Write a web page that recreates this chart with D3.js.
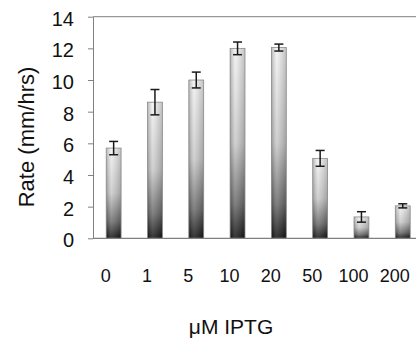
<!DOCTYPE html>
<html>
<head>
<meta charset="utf-8">
<script src="https://cdn.jsdelivr.net/npm/d3@7"></script>
<style>
  body { margin: 0; background: #fff; }
  text { font-family: "Liberation Sans", Arial, sans-serif; fill: #111; }
</style>
</head>
<body>
<div id="plot"></div>
<script>
// IPTG concentrations (uM) and measured rates
var conc = ["0", "1", "5", "10", "20", "50", "100", "200"]
var rate = [5.7, 8.6, 10.0, 12.0, 12.05, 5.05, 1.35, 2.05]
var err = [0.42, 0.8, 0.5, 0.4, 0.22, 0.5, 0.33, 0.13]
var yTicks = [0, 2, 4, 6, 8, 10, 12, 14]

var w = 416
var h = 338
var plotLeft = 93
var plotTop = 16.7
var plotBottom = 238.3
var step = 41.3

var svg = d3.select("#plot").append("svg")
    .attr("width", w).attr("height", h)

var data = conc.map(function(c, i) { return { c: c, v: rate[i], e: err[i] } })

var xScale = d3.scaleBand()
    .domain(conc)
    .range([plotLeft, plotLeft + step * conc.length])
    .paddingInner(0.64)
    .paddingOuter(0.32)

var yScale = d3.scaleLinear()
    .domain([0, 14])
    .range([plotBottom, plotTop])

// gradients for the bars
var defs = svg.append("defs")
var vg = defs.append("linearGradient").attr("id", "vgrad")
    .attr("x1", 0).attr("y1", 0).attr("x2", 0).attr("y2", 1)
vg.append("stop").attr("offset", "0%").attr("stop-color", "#f2f2f2")
vg.append("stop").attr("offset", "50%").attr("stop-color", "#c8c8c8")
vg.append("stop").attr("offset", "82%").attr("stop-color", "#6a6a6a")
vg.append("stop").attr("offset", "100%").attr("stop-color", "#121212")

var hg = defs.append("linearGradient").attr("id", "hgrad")
    .attr("x1", 0).attr("y1", 0).attr("x2", 1).attr("y2", 0)
hg.append("stop").attr("offset", "0%").attr("stop-color", "#000").attr("stop-opacity", 0.25)
hg.append("stop").attr("offset", "35%").attr("stop-color", "#fff").attr("stop-opacity", 0.15)
hg.append("stop").attr("offset", "100%").attr("stop-color", "#000").attr("stop-opacity", 0.2)

// top border line
svg.append("line")
    .attr("x1", plotLeft).attr("x2", w)
    .attr("y1", yScale(14)).attr("y2", yScale(14))
    .attr("stroke", "#808080").attr("stroke-width", 1)

// y axis
var yAxis = d3.axisLeft(yScale).tickValues(yTicks).tickSize(5).tickSizeOuter(0).tickPadding(14)
var gy = svg.append("g")
    .attr("transform", "translate(" + plotLeft + ",0)")
    .call(yAxis)
gy.select(".domain").attr("stroke", "#808080")
gy.selectAll(".tick line").attr("stroke", "#808080")
gy.selectAll(".tick text")
    .attr("font-size", 20)
    .attr("font-family", "'Liberation Sans', Arial, sans-serif")
    .attr("fill", "#111")
    .attr("dy", "0.42em")

// x axis
var xAxis = d3.axisBottom(xScale).tickSize(0).tickPadding(31).tickSizeOuter(0)
var gx = svg.append("g")
    .attr("transform", "translate(0," + plotBottom + ")")
    .call(xAxis)
gx.select(".domain").remove()
gx.selectAll(".tick text")
    .attr("font-size", 18)
    .attr("font-family", "'Liberation Sans', Arial, sans-serif")
    .attr("fill", "#111")
    .attr("dx", -8)

// bars
var bars = svg.append("g")
bars.selectAll("rect.bar")
    .data(data).enter().append("rect")
    .attr("class", "bar")
    .attr("x", function(d) { return xScale(d.c) })
    .attr("y", function(d) { return yScale(d.v) })
    .attr("width", xScale.bandwidth())
    .attr("height", function(d) { return plotBottom - yScale(d.v) })
    .attr("fill", "url(#vgrad)")
bars.selectAll("rect.shade")
    .data(data).enter().append("rect")
    .attr("class", "shade")
    .attr("x", function(d) { return xScale(d.c) })
    .attr("y", function(d) { return yScale(d.v) })
    .attr("width", xScale.bandwidth())
    .attr("height", function(d) { return plotBottom - yScale(d.v) })
    .attr("fill", "url(#hgrad)")
    .attr("stroke", "#8a8a8a")
    .attr("stroke-width", 0.8)

// baseline
svg.append("line")
    .attr("x1", plotLeft).attr("x2", w)
    .attr("y1", plotBottom).attr("y2", plotBottom)
    .attr("stroke", "#808080").attr("stroke-width", 1.2)

// error bars
var cap = 4.5
var eb = svg.append("g").attr("stroke", "#1a1a1a").attr("stroke-width", 1.5)
data.forEach(function(d) {
    var cx = xScale(d.c) + xScale.bandwidth() / 2
    eb.append("line")
        .attr("x1", cx).attr("x2", cx)
        .attr("y1", yScale(d.v + d.e)).attr("y2", yScale(d.v - d.e))
    eb.append("line")
        .attr("x1", cx - cap).attr("x2", cx + cap)
        .attr("y1", yScale(d.v + d.e)).attr("y2", yScale(d.v + d.e))
    eb.append("line")
        .attr("x1", cx - cap).attr("x2", cx + cap)
        .attr("y1", yScale(d.v - d.e)).attr("y2", yScale(d.v - d.e))
})

// axis titles
svg.append("text")
    .attr("text-anchor", "middle")
    .attr("transform", "translate(34,137) rotate(-90)")
    .attr("font-size", 22)
    .text("Rate (mm/hrs)")

svg.append("text")
    .attr("text-anchor", "middle")
    .attr("x", 231)
    .attr("y", 334)
    .attr("font-size", 21)
    .text("\u03bcM IPTG")
</script>
</body>
</html>
